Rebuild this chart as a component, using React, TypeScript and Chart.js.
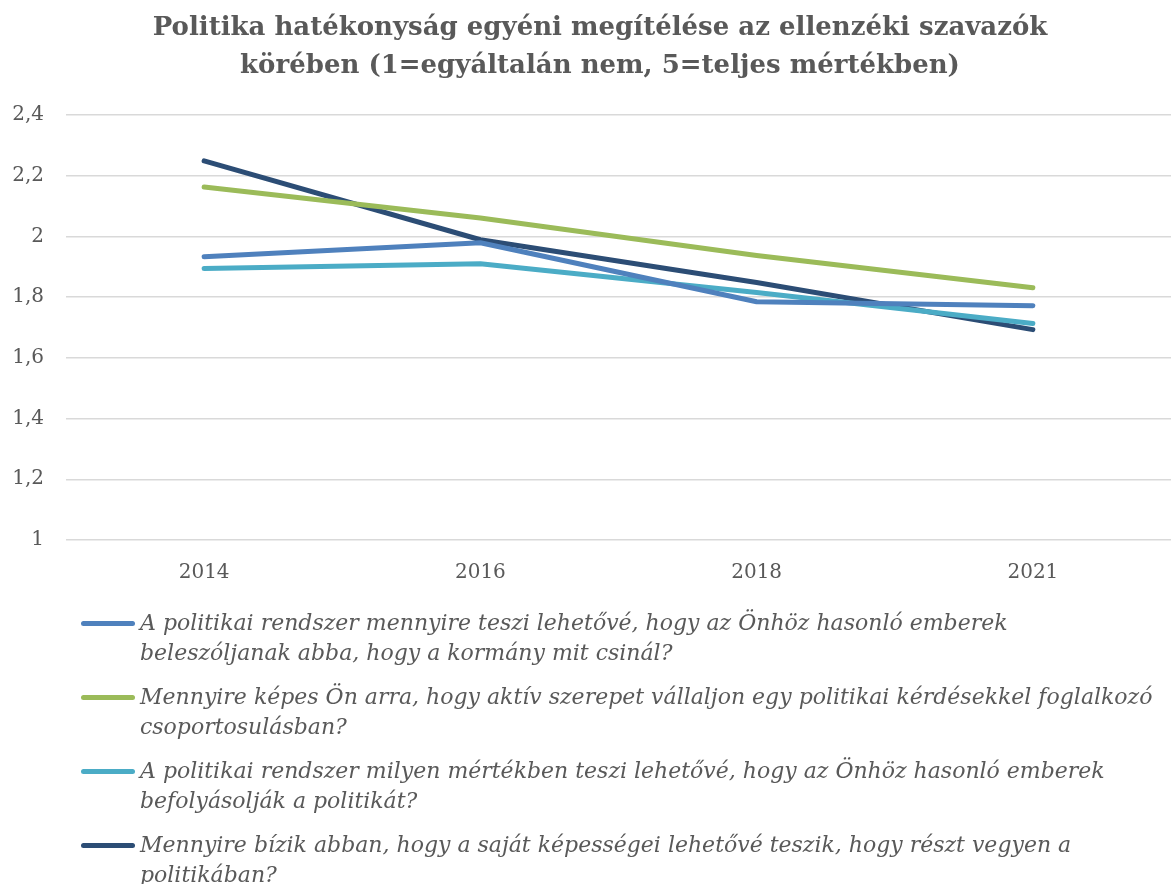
import React, { useEffect, useRef } from "react";
import { Chart, registerables } from "chart.js";

Chart.register(...registerables);

const categories = ["2014", "2016", "2018", "2021"];

const rendszerBeleszolas = [1.933, 1.979, 1.785, 1.772];
const aktivSzerep = [2.163, 2.061, 1.937, 1.831];
const rendszerBefolyas = [1.894, 1.91, 1.815, 1.713];
const kepessegBizalom = [2.249, 1.989, 1.848, 1.693];

const seriesColors = ["#4F81BD", "#9BBB59", "#4BACC6", "#2C4D75"];

const seriesLabels = [
  [
    "A politikai rendszer mennyire teszi lehetővé, hogy az Önhöz hasonló emberek",
    "beleszóljanak abba, hogy a kormány mit csinál?",
  ],
  [
    "Mennyire képes Ön arra, hogy aktív szerepet vállaljon egy politikai kérdésekkel foglalkozó",
    "csoportosulásban?",
  ],
  [
    "A politikai rendszer milyen mértékben teszi lehetővé, hogy az Önhöz hasonló emberek",
    "befolyásolják a politikát?",
  ],
  [
    "Mennyire bízik abban, hogy a saját képességei lehetővé teszik, hogy részt vegyen a",
    "politikában?",
  ],
];

const titleLines = [
  "Politika hatékonyság egyéni megítélése az ellenzéki szavazók",
  "körében (1=egyáltalán nem, 5=teljes mértékben)",
];

const yMin = 1;
const yMax = 2.4;
const yStep = 0.2;

const FONT = "'DejaVu Serif', 'Liberation Serif', serif";
const GRAY = "#595959";

const titlePlugin = {
  id: "centeredTitle",
  afterDraw(chart: any) {
    const c = chart.ctx;
    c.save();
    c.fillStyle = GRAY;
    c.font = `bold 26px ${FONT}`;
    c.textAlign = "center";
    c.textBaseline = "middle";
    titleLines.forEach((line, i) => {
      c.fillText(line, 600, 28 + i * 38);
    });
    c.restore();
  },
};

export default function App() {
  const canvasRef = useRef<HTMLCanvasElement | null>(null);

  useEffect(() => {
    document.body.style.margin = "0";
    const ctx = canvasRef.current;
    if (!ctx) return;
    const allSeries = [rendszerBeleszolas, aktivSzerep, rendszerBefolyas, kepessegBizalom];
    const chart = new Chart(ctx, {
      type: "line",
      data: {
        labels: categories,
        datasets: allSeries.map((d, i) => ({
          label: seriesLabels[i].join(" "),
          data: d,
          borderColor: seriesColors[i],
          backgroundColor: seriesColors[i],
          borderWidth: 5,
          pointRadius: 0,
          tension: 0,
          borderCapStyle: "round" as const,
          borderJoinStyle: "round" as const,
        })),
      },
      options: {
        animation: false,
        responsive: false,
        maintainAspectRatio: false,
        layout: { padding: { left: 0, right: 0, top: 115, bottom: 6 } },
        plugins: {
          legend: { display: false },
          tooltip: { enabled: false },
          title: { display: false },
        },
        scales: {
          x: {
            offset: true,
            grid: { display: false, drawTicks: false },
            border: { display: false },
            ticks: {
              color: GRAY,
              font: { family: FONT, size: 20 },
              padding: 21,
            },
          },
          y: {
            min: yMin,
            max: yMax,
            afterFit: (scale: any) => {
              scale.width = 66;
            },
            grid: { color: "#D9D9D9", lineWidth: 1.5, drawTicks: false },
            border: { display: false },
            ticks: {
              stepSize: yStep,
              color: GRAY,
              font: { family: FONT, size: 20 },
              padding: 22,
              callback: (v: any) => {
                const n = Math.round(Number(v) * 10) / 10;
                return String(n).replace(".", ",");
              },
            },
          },
        },
      },
      plugins: [titlePlugin],
    });
    return () => chart.destroy();
  }, []);

  return (
    <div style={{ position: "relative", width: 1171, height: 884, background: "#fff", overflow: "hidden" }}>
      <canvas ref={canvasRef} width={1171} height={612} style={{ display: "block" }} />
      <div style={{ position: "absolute", top: 608, left: 0, width: 1171 }}>
        {seriesLabels.map((lines, i) => (
          <div key={i} style={{ position: "relative", height: 74 }}>
            <div
              style={{
                position: "absolute",
                left: 81,
                top: 13,
                width: 54,
                height: 5,
                borderRadius: 3,
                background: seriesColors[i],
              }}
            />
            <div
              style={{
                position: "absolute",
                left: 140,
                top: 0,
                fontFamily: FONT,
                fontStyle: "italic",
                fontSize: 22,
                lineHeight: "30px",
                color: GRAY,
                whiteSpace: "nowrap",
              }}
            >
              {lines.map((l, j) => (
                <div key={j}>{l}</div>
              ))}
            </div>
          </div>
        ))}
      </div>
    </div>
  );
}
